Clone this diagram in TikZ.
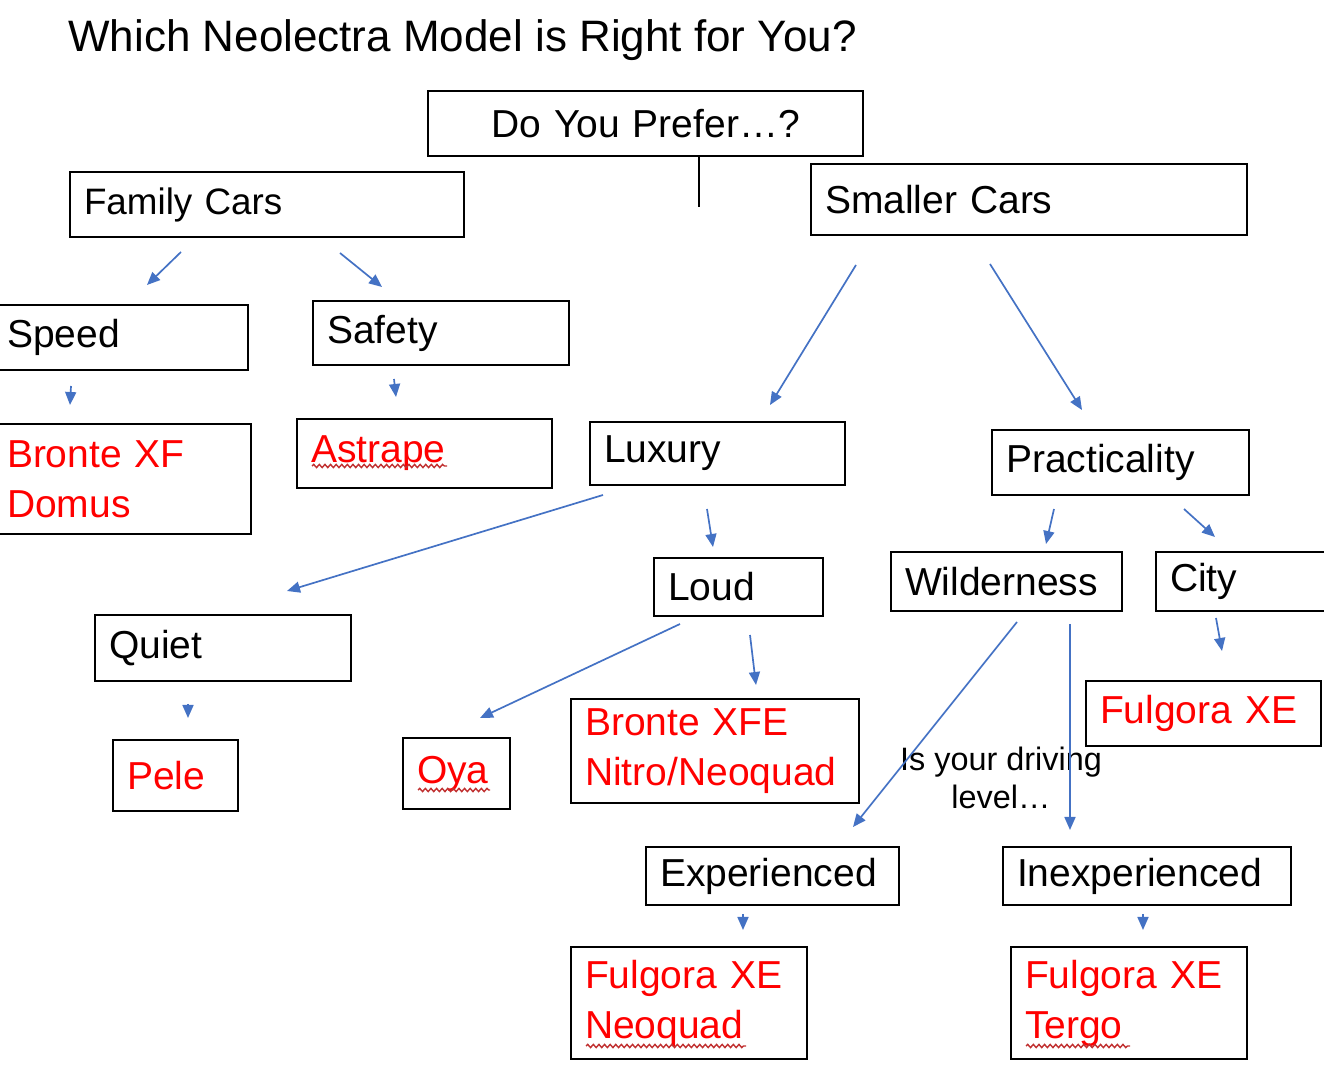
\documentclass[tikz,border=0pt]{standalone}
\usepackage{fontspec}
\setmainfont{Liberation Sans}
\usetikzlibrary{arrows.meta,calc,decorations.pathmorphing}
\definecolor{arrblue}{HTML}{4472C4}
\definecolor{modelred}{HTML}{FF0000}
\definecolor{wavyred}{HTML}{C03030}
\begin{document}
\begin{tikzpicture}[x=0.5pt,y=-0.5pt,
  box/.style={draw=black, line width=1pt, inner xsep=7pt, inner ysep=0pt,
    anchor=north west, align=left, font=\fontsize{19.5}{25}\selectfont},
  smallbox/.style={box, font=\fontsize{18.4}{25}\selectfont},
  model/.style={text=modelred},
  conn/.style={draw=arrblue, line width=0.85pt, -{Triangle[length=6.5pt,width=5.5pt]}},
  wavy/.style={draw=wavyred, line width=0.7pt, decorate,
    decoration={snake, amplitude=0.8pt, segment length=2.8pt}}]
\useasboundingbox (0,0) rectangle (1324,1079);

% title
\node[anchor=base west, inner sep=0pt, font=\fontsize{22}{26}\selectfont] (title) at (68,52) {Which Neolectra Model is Right for You?};

% boxes
\node[box, align=center, text width=203.5pt, minimum height=32.5pt] (pref) at (427,90) {Do You Prefer…?};
\node[smallbox, text width=183pt, minimum height=32.5pt] (fam) at (69,171) {Family Cars};
\node[box, text width=204pt, minimum height=35.5pt] (small) at (810,163) {Smaller Cars};
\node[box, text width=113.5pt, minimum height=32.5pt] (speed) at (-8,304) {Speed};
\node[box, text width=114pt, minimum height=32pt] (safety) at (312,300) {Safety};
\node[box, model, text width=115pt, minimum height=55pt] (bxf) at (-8,423) {Bronte XF\\Domus};
\node[box, model, text width=113.5pt, minimum height=34.5pt] (astr) at (296,418) {Astrape};
\node[box, text width=113.5pt, minimum height=31.5pt] (lux) at (589,421) {Luxury};
\node[box, text width=114.5pt, minimum height=32.5pt] (prac) at (991,429) {Practicality};
\node[box, text width=70.5pt, minimum height=29pt] (loud) at (653,557) {Loud};
\node[box, text width=101.5pt, minimum height=29.5pt] (wild) at (890,551) {Wilderness};
\node[box, text width=81pt, minimum height=29.5pt] (city) at (1155,551) {City};
\node[box, text width=114pt, minimum height=33pt] (quiet) at (94,614) {Quiet};
\node[box, model, text width=48.5pt, minimum height=35.5pt] (pele) at (112,739) {Pele};
\node[box, model, text width=39.5pt, minimum height=35.5pt] (oya) at (402,737) {Oya};
\node[box, model, text width=130pt, minimum height=52pt] (bxfe) at (570,698) {Bronte XFE\\Nitro/Neoquad};
\node[box, model, text width=103.5pt, minimum height=32.5pt] (fxe) at (1085,680) {Fulgora XE};
\node[box, text width=112.5pt, minimum height=29pt] (exp) at (645,846) {Experienced};
\node[box, text width=130pt, minimum height=29pt] (inexp) at (1002,846) {Inexperienced};
\node[box, model, text width=104pt, minimum height=56pt] (fneo) at (570,946) {Fulgora XE\\Neoquad};
\node[box, model, text width=104pt, minimum height=56pt] (fterg) at (1010,946) {Fulgora XE\\Tergo};

% question text
\node[align=center, inner sep=0pt, font=\fontsize{16.2}{19}\selectfont] (drive) at (1001,778) {Is your driving\\level…};

% stem under the top box
\coordinate (stem) at (699,207);
\draw[line width=1pt] ($(pref.south west)+(272,0)$) -- (stem);

% connectors
\draw[conn] ($(fam.south west)+(112,14)$) -- ($(speed.north west)+(155,-19)$);
\draw[conn] ($(fam.south west)+(271,15)$) -- ($(safety.north west)+(70,-13)$);
\draw[conn] ($(speed.south west)+(79,15)$) -- ($(bxf.north west)+(78,-18)$);
\draw[conn] ($(safety.south west)+(82,13)$) -- ($(astr.north west)+(100,-21)$);
\draw[conn] ($(small.south west)+(46,29)$) -- ($(lux.north west)+(181,-16)$);
\draw[conn] ($(small.south west)+(180,28)$) -- ($(prac.north west)+(91,-19)$);
\draw[conn] ($(lux.south west)+(14,9)$) -- ($(quiet.north west)+(193,-23)$);
\draw[conn] ($(lux.south west)+(118,23)$) -- ($(loud.north west)+(60,-10)$);
\draw[conn] ($(loud.south west)+(27,7)$) -- ($(oya.north west)+(78,-19)$);
\draw[conn] ($(loud.south west)+(97,18)$) -- ($(bxfe.north west)+(186,-13)$);
\draw[conn] ($(prac.south west)+(63,13)$) -- ($(wild.north west)+(156,-7)$);
\draw[conn] ($(prac.south west)+(193,13)$) -- ($(city.north west)+(60,-14)$);
\draw[conn] ($(city.south west)+(61,6)$) -- ($(fxe.north west)+(137,-29)$);
\draw[conn] ($(quiet.south west)+(94,22)$) -- ($(pele.north west)+(76,-21)$);
\draw[conn] ($(wild.south west)+(127,10)$) -- ($(exp.north west)+(208,-19)$);
\draw[conn] ($(wild.south west)+(180,12)$) -- ($(inexp.north west)+(68,-16)$);
\draw[conn] ($(exp.south west)+(98,8)$) -- ($(fneo.north west)+(173,-16)$);
\draw[conn] ($(inexp.south west)+(141,8)$) -- ($(fterg.north west)+(133,-16)$);

% spell-check underlines
\draw[wavy] ($(astr.north west)+(16,48)$) -- ($(astr.north west)+(151,48)$);
\draw[wavy] ($(oya.north west)+(16,53)$) -- ($(oya.north west)+(88,53)$);
\draw[wavy] ($(fneo.north west)+(16,100)$) -- ($(fneo.north west)+(176,100)$);
\draw[wavy] ($(fterg.north west)+(16,100)$) -- ($(fterg.north west)+(120,100)$);
\end{tikzpicture}
\end{document}
